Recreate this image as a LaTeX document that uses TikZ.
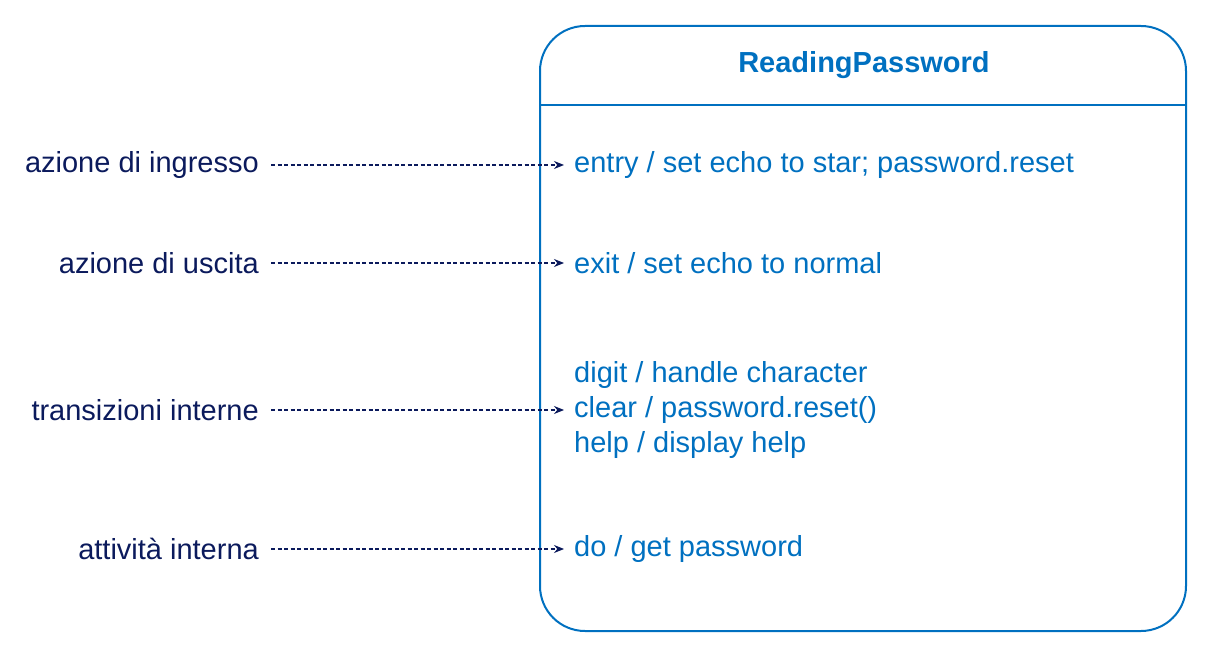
\documentclass[tikz,border=0pt]{standalone}
\usepackage{fontspec}
\setmainfont{Liberation Sans}
\usetikzlibrary{arrows.meta}
\definecolor{ublue}{HTML}{0070C0}
\definecolor{navy}{HTML}{0B1A5C}
\tikzset{
  lbl/.style={anchor=east, text=navy, font=\fontsize{29}{35}\selectfont, inner sep=0pt},
  act/.style={anchor=west, text=ublue, font=\fontsize{29}{35}\selectfont, inner sep=0pt, align=left},
  conn/.style={navy, line width=1.2pt, dash pattern=on 4pt off 2.5pt, -{Stealth[length=10pt,width=8pt]}}
}
\begin{document}
\begin{tikzpicture}[x=1pt,y=-1pt]
\useasboundingbox (0,0) rectangle (1224,652);
\draw[ublue, line width=2pt, rounded corners=45pt] (540,26) rectangle (1186,631);
\draw[ublue, line width=2pt] (540,105) -- (1186,105);
\node[text=ublue, font=\fontsize{29}{35}\selectfont\bfseries, inner sep=0pt] (title) at (864,65) {ReadingPassword};
\node[act] (a1) at (574,165) {entry / set echo to star; password.reset};
\node[act] (a2) at (574,263) {exit / set echo to normal};
\node[act] (a3) at (574,410) {digit / handle character\\clear / password.reset()\\help / display help};
\node[act] (a4) at (574,549) {do / get password};
\node[lbl] (l1) at (259,165) {azione di ingresso};
\node[lbl] (l2) at (259,263) {azione di uscita};
\node[lbl] (l3) at (259,410) {transizioni interne};
\node[lbl] (l4) at (259,549) {attività interna};
\draw[conn] ([xshift=12pt]l1.east) -- ([xshift=-10pt]a1.west);
\draw[conn] ([xshift=12pt]l2.east) -- ([xshift=-10pt]a2.west);
\draw[conn] ([xshift=12pt]l3.east) -- ([xshift=-10pt]a3.west);
\draw[conn] ([xshift=12pt]l4.east) -- ([xshift=-10pt]a4.west);
\end{tikzpicture}
\end{document}
